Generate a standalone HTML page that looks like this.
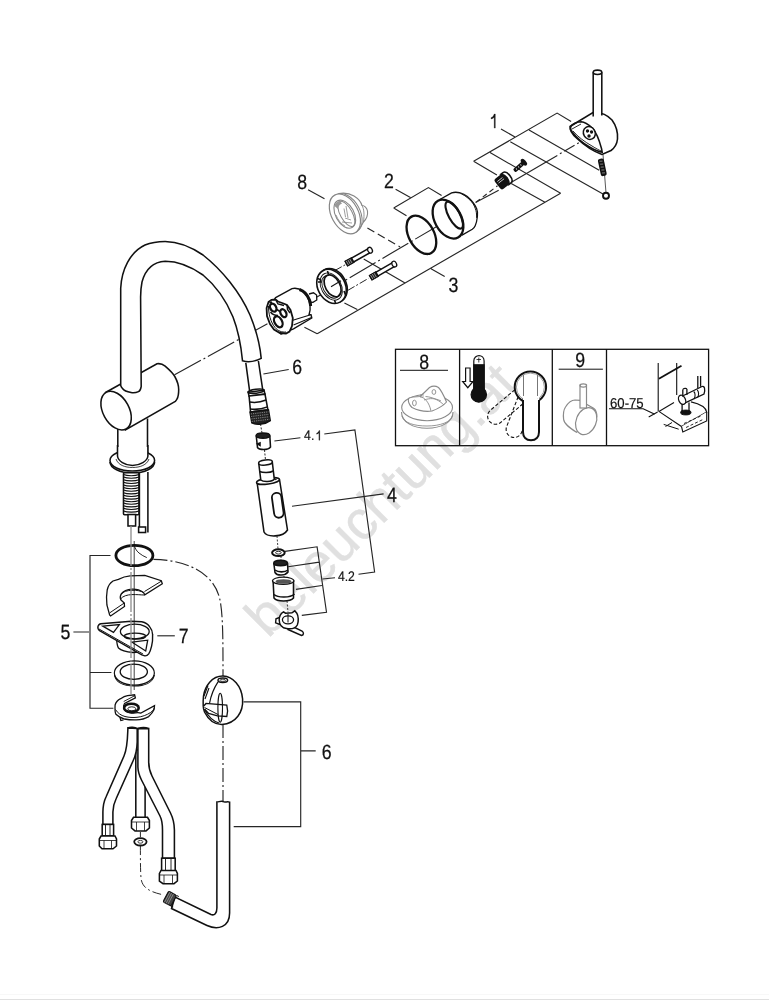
<!DOCTYPE html>
<html><head><meta charset="utf-8">
<style>
html,body{margin:0;padding:0;background:#fff;width:769px;height:1000px;overflow:hidden}
svg{display:block;position:absolute;left:0;top:0;will-change:transform}
text{font-family:"Liberation Sans",sans-serif;fill:#111;text-rendering:geometricPrecision}
</style></head><body>
<svg width="769" height="1000" viewBox="0 0 769 1000">
<!-- watermark -->
<g id="wm">
<text x="0" y="0" transform="translate(268.1,638.9) rotate(-45)" style="font-size:55px;fill:#e0e0e0;stroke:#e0e0e0;stroke-width:0.4px;letter-spacing:-0.3px">beleuchtung.at</text>
</g>
<!-- bottom border -->
<rect x="0" y="999" width="769" height="1" fill="#e0e0e0"/>
<rect x="0" y="994" width="769" height="1" fill="#f8f8f8"/>

<g id="lines" fill="none" stroke="#262626" stroke-width="1.15">
<!-- main axis dash-dot -->
<path d="M174.6,374.8 L268.2,323.3 M317,297 L476,203.3" stroke-dasharray="30 3 2 3"/>
<path d="M476,202.3 L497.5,185.8" stroke-dasharray="5 3.5"/>
<path d="M511,182.6 L547,161.5" />
<path d="M547,161.5 L580,142" stroke-dasharray="12 3 2 3"/>
<!-- bracket 1 -->
<path d="M473.6,161.2 L557.1,113.1 L571.1,121.4 M529,130 L599.2,170.2 M510.3,141.7 L603,193.9 M490,152.6 L560.6,193.2 M473.6,161.2 L496.9,175 M501,129 L515,137"/>
<!-- bracket 3 -->
<path d="M560.6,193.2 L317.2,333.7 M511.2,183.4 L545,202.3 M431,268.8 L444.7,276.4 M404.6,282.8 L363.7,259.1 M344.4,303 L357.3,309.5 M304.4,327.3 L317.2,333.7"/>
<path d="M334.7,270.6 L345.2,264.8 M347.6,290.5 L368.6,278.3" stroke-dasharray="8 2 2 2" stroke-width="1"/>
<!-- bracket 2 -->
<path d="M395.6,189.2 L410.4,197.5 M393.7,207.9 L428.4,187.6 L441.6,195.4 M393.7,207.9 L406.5,215.7"/>
<path d="M475.5,202.5 L498.7,190.3"/>
<!-- leader 8 -->
<path d="M308.1,189.7 L324.5,198.7"/>
<path d="M367.4,227.9 L400.1,246.9" stroke-dasharray="8 4"/>
<!-- leader 6 top -->
<path d="M263.4,374 L288.7,369.5"/>
<!-- 4.1 bracket -->
<path d="M274.4,441 L300.4,437.8 M324.3,434 L354.9,429.9 L374.6,572 L358.5,574.3"/>
<!-- 4 leader -->
<path d="M292,506.3 L383.6,493.9"/>
<!-- 4.2 bracket -->
<path d="M284.9,551.4 L317.1,546.8 L326.5,612.2 L301.8,615.4 M288.1,566.7 L319.3,562.1 M295.9,589.4 L321.9,585.5 M322.6,579 L335,577.7"/>
<!-- 5 bracket -->
<path d="M110.5,555.5 L90,555.5 L90,708.2 L113.4,708.2 M90,672.5 L111.4,672.5 M73.4,632 L89,632"/>
<!-- 7 leader -->
<path d="M157.3,635.8 L174.8,635.8"/>
<!-- 6 bracket bottom -->
<path d="M243.5,701.8 L300.7,701.8 L300.7,826.6 L233.7,826.6 M300.7,750.9 L315.7,750.9"/>
<!-- dash-dot curve from o-ring to egg -->
<path d="M153.4,559.4 C190,560 215,575 220,600 C223,615 223,640 223,676" stroke-dasharray="14 3 2 3"/>
<path d="M223,724 L223,802" stroke-dasharray="14 3 2 3"/>
</g>

<!-- labels -->
<g style="font-size:20.6px" stroke="#111" stroke-width="0.25">
<text transform="translate(384.0 187.9) scale(0.86 1)">2</text>
<text transform="translate(297.2 189.2) scale(0.86 1)">8</text>
<text transform="translate(448.4 292.0) scale(0.86 1)">3</text>
<text transform="translate(292.2 374.4) scale(0.86 1)">6</text>
<text transform="translate(387.0 502.4) scale(0.86 1)">4</text>
<text transform="translate(60.4 638.7) scale(0.86 1)">5</text>
<text transform="translate(178.8 643.4) scale(0.86 1)">7</text>
<text transform="translate(321.7 759.4) scale(0.86 1)">6</text>
</g>
<g style="font-size:13.9px" stroke="#111" stroke-width="0.2">
<text transform="translate(304.1 440.2) scale(0.88 1)">4.</text>
<text transform="translate(337.9 581.0) scale(0.88 1)">4.2</text>
</g>
<!-- "1" glyphs as paths -->
<path d="M495.3,128.1 V114 L494.2,114 C493.6,116 492.5,117.2 491.1,117.6 V119 C492.6,118.7 493.6,118 494.2,117.2 V128.1 Z" fill="#111" stroke="#111" stroke-width="0.3"/>
<path d="M319.8,440.2 V430.6 L319,430.6 C318.6,432 317.8,432.9 316.6,433.2 V434.2 C317.7,434 318.4,433.5 318.9,432.9 V440.2 Z" fill="#111" stroke="#111" stroke-width="0.25"/>
<!-- PARTS -->
<g id="parts" fill="#fff" stroke="#111" stroke-width="1.55">
<!-- FAUCET BODY -->
<!-- horizontal body cylinder -->
<path d="M105.5,392.5 L157,363.8 C159.5,363.3 162.5,364 165.2,366.2 C169,369.5 172.5,372.5 174.8,376.5 C177,380.5 178.7,385 178.7,389.5 C178.7,393 178.2,397 177,399 C176.5,400 176,400.8 175.3,401.4 L125.4,429.9 Z"/>
<ellipse cx="116.1" cy="410.6" rx="13.1" ry="20.8" transform="rotate(-28.6 116.1 410.6)"/>
<!-- spout -->
<path d="M120.7,385.4 L120.7,288.2 C121.5,270 130,252 145,245 C152,242 158,241.4 165.2,241.4 C178,241.5 190,246 203,255 C222,270 240,292 250,315 C257,332 260,345 261.2,358.4 C255,361.5 248,362.5 242.5,360.8 C241,345 238,330 233,317 C226,300 215,285 203,275 C190,266 178,261.3 165.2,261.3 C152,262 145,271 142,282 C141,287 140.6,292 140.6,297 L141.2,386.6 C140.8,389 140,391 138.5,391.6 C136,392.8 133,393 131,392.6 C127,391.8 124,390.5 122.5,388.5 C121.5,387.5 120.9,386.5 120.7,385.4 Z"/>
<!-- hose from spout -->
<path d="M245.8,362.8 L249.7,391.6 M258.4,361 L262.7,389.7" fill="none"/>
<!-- stem below body -->
<path d="M117.8,429 L117.8,458 M147.5,418.5 L147.5,458" fill="none"/>
<!-- base flange -->
<path d="M110,462 C110,468 120,473 132.3,473 C145,473 154.6,468 154.6,462" fill="none"/>
<ellipse cx="132.3" cy="460.5" rx="22.3" ry="10.5"/>
<path d="M117.5,455 C117.5,461 124,465 132.5,465 C141,465 147.9,461 147.9,455 L147.9,447 L117.5,447 Z" stroke="none"/>
<path d="M117.5,445 L117.5,456 C118,461 125,465.5 132.5,465.5 C140,465.5 147.5,461 147.9,456 L147.9,445" fill="none"/>
<path d="M116,459 C118,465 125,467.5 132.5,467.5 C140,467.5 147,465 149,459" fill="none" stroke-width="0.8"/>
<!-- threaded rod -->
<rect x="123.5" y="472.7" width="15.5" height="42" rx="1" stroke-width="1.6"/>
<path d="M123.5,474.5 C127,476.1 135.5,476.1 139,474.5 M123.5,477.1 C127,478.7 135.5,478.7 139,477.1 M123.5,479.7 C127,481.3 135.5,481.3 139,479.7 M123.5,482.3 C127,483.9 135.5,483.9 139,482.3 M123.5,484.9 C127,486.5 135.5,486.5 139,484.9 M123.5,487.5 C127,489.1 135.5,489.1 139,487.5 M123.5,490.1 C127,491.7 135.5,491.7 139,490.1 M123.5,492.7 C127,494.3 135.5,494.3 139,492.7 M123.5,495.3 C127,496.9 135.5,496.9 139,495.3 M123.5,497.9 C127,499.5 135.5,499.5 139,497.9 M123.5,500.5 C127,502.1 135.5,502.1 139,500.5 M123.5,503.1 C127,504.7 135.5,504.7 139,503.1 M123.5,505.7 C127,507.3 135.5,507.3 139,505.7 M123.5,508.3 C127,509.9 135.5,509.9 139,508.3 M123.5,510.9 C127,512.5 135.5,512.5 139,510.9" fill="none" stroke-width="1.1"/>
<!-- pipe -->
<path d="M139.4,473 L139.4,532.5 M147.9,472 L147.9,532.5" fill="none"/>
<rect x="138.6" y="527" width="7" height="5.5"/>
<rect x="128" y="514.5" width="7.6" height="11.5"/>

<!-- PART 1 -->
<path d="M570,126.5 L593,112.5 C600,112 607,114.5 612,120 C616,125.5 618,132 617.5,139 C617,144 614.5,148 611,150.5 L602,154.5 C595,152 585,146 577,138.5 C572,134 569.5,130 570,126.5 Z"/>
<path d="M570.7,126.7 C572,124 577,121.8 581.2,121.8 C585,122 589,125 592.5,128.2 C596,132 599,139 601.5,148.5 L602.2,152.2 C598,151.5 593,149 589.5,147 C584,144 577,138 572.2,132 C570.5,130 570.3,128 570.7,126.7 Z" fill="none"/>
<path d="M572,129 L581,124 M573,131 C578,137 585,142 592,146 C596,148.5 599,150 601,151" fill="none" stroke-width="0.9"/>
<ellipse cx="589.3" cy="133" rx="5.8" ry="6.6" transform="rotate(-30 589.3 133)" stroke-width="1.5"/>
<circle cx="587.5" cy="131" r="1.7" fill="#111" stroke="none"/>
<circle cx="591.5" cy="132" r="1.7" fill="#111" stroke="none"/>
<circle cx="589" cy="136" r="1.7" fill="#111" stroke="none"/>
<circle cx="589.3" cy="133" r="1" fill="#fff" stroke="none"/>
<rect x="593.2" y="72.3" width="8.6" height="42" stroke="none"/>
<path d="M593.2,72.3 L593.2,116.5 M601.8,72.3 L601.8,115.5" fill="none"/>
<ellipse cx="597.5" cy="72.3" rx="4.3" ry="2.2"/>
<path d="M603,154.5 L606,193" fill="none" stroke-width="0.7"/>
<g transform="translate(602.3,167.3) rotate(-12)">
<rect x="-3" y="-8.8" width="6" height="17.6" rx="2" fill="#111" stroke="none"/>
<path d="M-1.5,-6.5 L1.5,-6 M-1.5,-3.5 L1.5,-3 M-1.5,-0.5 L1.5,0 M-1.5,2.5 L1.5,3 M-1.5,5.5 L1.5,6" stroke="#bbb" stroke-width="0.6"/>
</g>
<circle cx="606" cy="195.7" r="3" stroke-width="1.9"/>
<!-- small screw -->
<g transform="translate(519.8,166) rotate(-42)">
<rect x="-7.5" y="-2.1" width="12" height="4.2" rx="1.5" fill="#111" stroke="none"/>
<path d="M-5,0 H-4 M-2,0 H-1 M1,0 H2" stroke="#fff" stroke-width="1.3"/>
<ellipse cx="5.5" cy="0" rx="2.2" ry="4" fill="#111" stroke="none"/>
</g>
<!-- nut -->
<g transform="translate(503.5,180.5) rotate(-38)">
<rect x="-7.5" y="-6.5" width="13.5" height="13" rx="2.5" fill="#111" stroke="none"/>
<path d="M2,-6.5 L4.5,-6.5 C7,-6.5 8,-3 8,0 C8,3 7,6.5 4.5,6.5 L2,6.5 C4,4 4.5,2 4.5,0 C4.5,-2 4,-4 2,-6.5 Z" fill="#fff" stroke="#111" stroke-width="1.6"/>
<path d="M-5.5,-3 H1 M-5.5,-1 H1.5" stroke="#fff" stroke-width="0.7"/>
</g>
<!-- PART 2 -->
<path d="M439.4,199.7 L451.6,192.9 C456,191.5 460,192.5 463.8,194.3 C467,195.8 469,197.5 470.9,200 C473.5,203 475.5,205.5 476.6,208.6 C477.8,211.5 477.7,214 477.4,216.5 C477,220 476.5,223 475.2,225.8 C474.5,227.5 473.5,228.5 472.3,229.3 L461.6,235.4 L448,219 Z" stroke="none"/>
<path d="M439.4,199.7 L451.6,192.9 C456,191.5 460,192.5 463.8,194.3 C467,195.8 469,197.5 470.9,200 C473.5,203 475.5,205.5 476.6,208.6 C477.8,211.5 477.7,214 477.4,216.5 C477,220 476.5,223 475.2,225.8 C474.5,227.5 473.5,228.5 472.3,229.3 L461.6,235.4" fill="none" stroke-width="1.3"/>
<path d="M461.6,193.9 C464,195 466,196.5 468,198.2 C470.5,200.5 472.5,202.5 473.8,205 C475,207.5 476,210 476.3,212.2 C476.6,214 476.7,216 476.6,217.9" fill="none" stroke-width="1"/>
<ellipse cx="448.0" cy="219.1" rx="13.3" ry="20.9" transform="rotate(-28.6 448.0 219.1)" stroke-width="2.3"/>
<ellipse cx="454.2" cy="215.1" rx="5.6" ry="15.1" transform="rotate(-28.6 454.2 215.1)" fill="none" stroke-width="2.1"/>
<ellipse cx="421.4" cy="234.8" rx="12.6" ry="20.7" transform="rotate(-28.6 421.4 234.8)" fill="none" stroke-width="2.3"/>
<!-- PART 8 gray -->
<g stroke="#858585" stroke-width="1.1" fill="#fff">
<path d="M339,193.5 C343,192.8 349,193 354,196 C358,198.5 361,202 362,205.5 C364.5,205.5 367,208 367.5,211 C368,215 366.5,219 363.5,222 C362,225 360,228 358.5,229.5 L345,214 Z" />
<path d="M362,205.5 C364,209 364.5,214 363.5,222" fill="none" stroke-width="0.9"/>
<ellipse cx="346.6" cy="213.2" rx="13.4" ry="21.2" transform="rotate(-28.6 346.6 213.2)" fill="none" stroke-width="1"/>
<ellipse cx="344.9" cy="213.9" rx="13.4" ry="21.4" transform="rotate(-28.6 344.9 213.9)" stroke-width="1.2"/>
<ellipse cx="344.8" cy="214.2" rx="9.2" ry="15.2" transform="rotate(-28.6 344.8 214.2)" stroke-width="1.1"/>
<ellipse cx="346.3" cy="213.9" rx="6" ry="14" transform="rotate(-28.6 346.3 213.9)" fill="none" stroke-width="1"/>
<path d="M334.5,206 C335,203 337,201 340,201 L342,203.5 C340,204 338.5,206 338,209 Z" fill="#999" stroke="none"/>
<path d="M346,206 L348,218 M344,208.5 L345.5,217 M342,222 L352,223 M345,218 L351,220 M336,215 C338,220 341,224 345,226" fill="none" stroke-width="0.8"/>
</g>
<!-- PART 3 screws -->
<g transform="translate(358.7,256.6) rotate(-29.5)">
<rect x="-14" y="-2.2" width="26" height="4.4"/>
<rect x="-14" y="-2.4" width="7" height="4.8" fill="#222"/>
<path d="M-13,-2.4 V2.4 M-11,-2.4 V2.4 M-9,-2.4 V2.4" stroke="#ccc" stroke-width="0.6"/>
<ellipse cx="13" cy="0" rx="2.2" ry="3" stroke-width="1.3"/>
</g>
<g transform="translate(383,270.6) rotate(-30)">
<rect x="-14" y="-2.2" width="26" height="4.4"/>
<rect x="-14" y="-2.4" width="7" height="4.8" fill="#222"/>
<path d="M-13,-2.4 V2.4 M-11,-2.4 V2.4 M-9,-2.4 V2.4" stroke="#ccc" stroke-width="0.6"/>
<ellipse cx="13" cy="0" rx="2.2" ry="3" stroke-width="1.3"/>
</g>
<!-- flange -->
<ellipse cx="332.5" cy="285.6" rx="13.7" ry="17.9" transform="rotate(-28.6 332.5 285.6)" stroke-width="1.6"/>
<ellipse cx="331.5" cy="286.4" rx="13.7" ry="17.9" transform="rotate(-28.6 331.5 286.4)" stroke-width="1.6"/>
<ellipse cx="331.2" cy="286.5" rx="10" ry="14.5" transform="rotate(-28.6 331.2 286.5)" fill="none" stroke-width="0.9"/>
<ellipse cx="330.8" cy="286.8" rx="7.8" ry="12.2" transform="rotate(-28.6 330.8 286.8)" fill="none" stroke-width="0.9"/>
<ellipse cx="332.6" cy="285.8" rx="7.3" ry="11.8" transform="rotate(-28.6 332.6 285.8)" stroke-width="1.7"/>
<path d="M317.5,278.5 L320.5,279.5 L321,282 L318,282 M327.5,271 L328.5,274.5 M334.5,300 L335.5,303 M344,291 L346,296" fill="none" stroke-width="1.6"/>
<path d="M331,286.7 L341,280.8" fill="none" stroke-width="1.1"/>
<!-- cartridge -->
<path d="M309,294 L313.5,292.8 L316.6,295 L316.8,300 L313,302.3 L309,302" stroke-width="1.3"/>
<path d="M275.6,297.6 L292,288.6 C295,287.8 299,288.2 303,291.5 C306.5,294 309,298.5 310,305.4 C310.5,309 310,312 309.1,314.5 L311,314.6 L311.8,318 L293.5,328.8 L281,334 L268,310 Z" stroke-width="1.4"/>
<path d="M299.5,289.5 C304,291 307.5,295 309.5,300 C310.2,302 310.5,304 310.6,306" fill="none" stroke-width="3"/>
<path d="M292.8,320.2 L310.7,314.8 M293.5,325 L311.5,317.5" fill="none" stroke-width="1.1"/>
<path d="M268.5,302 L271.5,299.8 L275.5,299.5 L278,301.5 L283.5,303.5 L287,305 L290.5,310 L292.8,318 L292,326 L289.5,331.5 L286,333.5 L280,333 L274,329.5 L270,324 L267,316 L266.6,308 Z" stroke-width="1.8"/>
<path d="M268.5,306 C268.5,314 270.5,322 275,327.5 C278,331 282,332.5 286,332" fill="none" stroke-width="1"/>
<path d="M276,300.5 L278,304 L284,305.5 M287,305 L287.5,309.5 L290,313 M269.5,303 L272,302" fill="none" stroke-width="1.4"/>
<ellipse cx="273.2" cy="307.7" rx="2.9" ry="4.2" transform="rotate(-28.6 273.2 307.7)" stroke-width="2.3"/>
<ellipse cx="283.4" cy="313.2" rx="2.7" ry="4.2" transform="rotate(-28.6 283.4 313.2)" stroke-width="2.3"/>
<ellipse cx="278.3" cy="321.8" rx="3.7" ry="5.9" transform="rotate(-28.6 278.3 321.8)" stroke-width="2.3"/>
<path d="M270.5,312 C272,314 275,315.5 278,315.5 M276,309 L280,311.5" fill="none" stroke-width="1.5"/>
<!-- hose end fitting -->
<g transform="translate(258.5,407) rotate(-7)">
<path d="M-8.5,-16 L7.5,-16 L8,-12 L-8,-12 Z"/>
<ellipse cx="-0.5" cy="-16" rx="8" ry="2" fill="none"/>
<path d="M-8,-12 L-8.5,4 L9,4 L8,-12 Z"/>
<path d="M-8.2,-6 C-3,-4.5 3,-4.5 8.4,-6 M-8.5,1 C-3,2.5 3,2.5 9,1" fill="none"/>
<path d="M-9,4 L-8.5,15 C-4,18 5,18 10,15 L9.5,4 Z" fill="#222"/>
<path d="M-8.5,6 L9.5,6 M-8.5,8.5 L9.5,8.5 M-8.5,11 L9.5,11 M-8.5,13.5 L9.5,13.5" stroke="#999" stroke-width="0.8" stroke-dasharray="1.2 1"/>
</g>
<path d="M260.5,424 L262,433 M264.5,450 L265.5,460" fill="none" stroke-width="0.9" stroke-dasharray="2 1.5"/>
<!-- 4.1 nut -->
<path d="M256.2,435.5 L257.5,447.5 C259,450 268,450.5 270.5,447 L269.8,435.5"/>
<ellipse cx="263" cy="435.5" rx="6.8" ry="2.6" fill="#222"/>
<path d="M257.5,444 L260,443 L260,445.5 Z" fill="#111"/>
<!-- sprayer 4 -->
<path d="M257,482 L264,532 C267,537.5 283,537.5 287.5,530 L279.5,479.5"/>
<ellipse cx="268" cy="481" rx="11.6" ry="3" transform="rotate(-8 268 481)"/>
<path d="M258.7,463 L260.8,480 C263,482 272,482 274.3,479.3 L272.3,462"/>
<path d="M259.5,471.5 C263,473 270,473 273.2,471" fill="none"/>
<ellipse cx="265.5" cy="462.5" rx="6.9" ry="2.5" transform="rotate(-6 265.5 462.5)"/>
<path d="M275.5,478.5 L276,480" fill="none"/>
<rect x="273" y="492.8" width="9.5" height="25" rx="4.7" transform="rotate(-8 277.7 505.3)" stroke-width="1.8"/>
<path d="M277,536 L278,549 M281,556 L281,560 M284,576 L284,578 M287,601 L288,612" fill="none" stroke-width="0.8" stroke-dasharray="2 1.5"/>
<!-- 4.2 parts -->
<ellipse cx="278.4" cy="552.7" rx="6.3" ry="3.4" stroke-width="2"/>
<ellipse cx="278.4" cy="552.7" rx="2.8" ry="1.4" stroke-width="0.9"/>
<path d="M273.8,563 L275,572.5 C277,576 285,576 288,572 L287.5,563"/>
<ellipse cx="280.6" cy="563" rx="6.8" ry="2.8" fill="#222"/>
<path d="M275,570 C278,572.5 285,572.5 288,570" fill="none"/>
<path d="M273.1,581 L274,598 C277,602 290,602 293.5,598 L293.5,580.5"/>
<ellipse cx="283.2" cy="580.8" rx="10.7" ry="3.6" stroke-width="1.3"/>
<ellipse cx="283.5" cy="581.5" rx="8" ry="2.3" fill="#555" stroke="none"/>
<path d="M274,594.5 C278,598 290,598 294.5,594" fill="none"/>
<path d="M289.5,625 L302,631 C304,632.5 304,635 301.5,635.5 L288,629.5 Z" stroke-width="1.4"/>
<path d="M279.5,617.5 L276,618.8 L275.6,622.8 L280,624.5" stroke-width="1.4"/>
<path d="M279.2,620 C279.2,615.5 281.5,613 283.5,611.8 L285.5,613.2 L292,612.8 L294.8,610.8 L296.8,613.2 C298.5,616 298.8,621.5 297.3,625 C295.5,628.5 290.5,629.2 286.5,628.6 C282.5,628 279.2,625 279.2,620 Z" stroke-width="1.5"/>
<ellipse cx="288" cy="619.8" rx="5.6" ry="4" stroke-width="1.3"/>
<path d="M288,614 V622.5" fill="none" stroke-width="1"/>
<!-- PART 5 -->
<ellipse cx="134.4" cy="555.5" rx="18.5" ry="10.2" fill="none" stroke-width="2.8"/>
<path d="M109.6,614.9 L106.9,605 C106.3,600 106.5,594 107.2,590 C108,586 110,583 113,581 L118.4,579.3 C122,577.5 126,576.3 130.1,575.9 L144.8,575.4 L161.3,580.7 L162.3,583.7 L144.8,594.9 L143.5,592.5 C140,590 136,589 132,589.2 C127,589.5 123.5,591 121.2,594 C120,596 120.2,598.5 121,600 L124.3,603 L124.5,606.5 L110.6,616 Z" stroke-width="1.3"/>
<path d="M161.3,581.2 L144.5,591.5 M124,603.2 L109.8,612.8 M121,594.5 C123,591.5 127,590.5 132,590.3 C137,590 141,591 143.3,592.5 M120.5,599 C123,596 127,594.8 132,594.6 C137,594.4 141,595 144.6,595" fill="none" stroke-width="1"/>
<path d="M116.5,638 C116.8,643 117,646 118.5,648 C121,650.5 127,652 133,652.5 L140,652 Z" stroke-width="1.3"/>
<path d="M97.9,626.6 C98.5,624.5 99.5,623.8 100.9,623.7 L131.1,621.2 L141.8,621.7 C145.5,622.5 148,624 149.6,626.6 C151.5,629 152.6,631.5 152.6,634.4 C152.8,639 152.5,643 151.6,646.1 C150.8,649.5 150,652 148.7,653.9 C147.5,655.5 146,656 144.8,655.9 L141.8,654.9 L99.9,630.8 C98.2,629.8 97.7,628 97.9,626.6 Z" stroke-width="1.4"/>
<path d="M99,629 L143,654" fill="none" stroke-width="1"/>
<path d="M102.8,626.1 L119.4,624.6 L113.5,632.4 Z" stroke-width="1.3"/>
<ellipse cx="134.8" cy="631.5" rx="14.4" ry="7.3" stroke-width="1.3"/>
<ellipse cx="135" cy="636.2" rx="10.7" ry="3" fill="none" stroke-width="1.2"/>
<path d="M132.1,642.2 L147.7,640.2 L145.7,651 Z" stroke-width="1.3"/>
<ellipse cx="134.35" cy="673" rx="20" ry="12.2" stroke-width="1.2"/>
<path d="M114.5,675 C116,683 125,686 134.5,686 C144,686 153,683 154.3,675" fill="none" stroke-width="1.1"/>
<ellipse cx="133.8" cy="671.8" rx="13.6" ry="7.6" stroke-width="1.3"/>
<path d="M120,717.5 L120.8,720.5 L123.5,719.8" fill="none" stroke-width="1.2"/>
<path d="M115.1,705 C116,702 118,700 120.6,698.7 C123,697 125,696 127.6,695.6 L134.6,694.8 L135.4,697.9 L124.5,703.5 C123.5,705 123,707 124,709 C125.5,711.5 128.5,713 132,713 C135.5,713 138.5,712 140.9,713.1 L154.5,705.7 L154.1,709.6 C153,712 151,714.5 148.7,716.6 C145,718.8 141,719.7 136.2,719.9 C132,720 128,719.7 124.5,719 C121,718 118,716.5 115.9,714.3 C115,712.5 114.8,710 115.1,705 Z" stroke-width="1.3"/>
<path d="M115.5,709.5 C117.5,713 121,715.5 125,716.5 C129,717.5 133,717.7 137,717.3 C142,716.8 147,715 150.5,712.5 C152.5,711 153.8,709.5 154.2,708" fill="none" stroke-width="1"/>
<path d="M123.7,701.5 L134.9,695.6" fill="none" stroke-width="0.9"/>
<ellipse cx="131.4" cy="707.9" rx="7.3" ry="4.2" fill="#fff" stroke-width="2.6"/>
<ellipse cx="131.8" cy="708.8" rx="4" ry="2" fill="none" stroke-width="0.9"/>
<!-- BOTTOM HOSES -->
<rect x="135.8" y="750" width="9.3" height="68.7"/>
<path d="M127.9,727.9 C127.5,740 127.5,748 124,756 L106,797 C104,801 103,806 102.9,812 L102.9,824.4 L112.9,824.4 L112.9,812 C113,806 114,803 116,799 L133,761 C135.5,756 137,749 137.2,742 L137.2,728.6 Z"/>
<path d="M137.9,728.6 L137.9,767 C138,772 139.5,776 141.5,780 L160,816 C162,820 162.5,824 162.5,830 L162.5,858.2 L174.4,858.2 L174.4,830 C174.3,823 173,818 170.5,813 L152,776 C150,772 148.7,768 148.7,762 L148.7,728.6 Z"/>
<path d="M127.9,727.9 C130,727 135,727 137.2,728.6 M137.9,728.6 C141,727.5 146,727.5 148.7,728.6" fill="none"/>
<!-- left fitting -->
<rect x="102.2" y="824.4" width="11.4" height="11.5"/>
<path d="M105.5,825 V836 M110,825 V836" fill="none" stroke-width="0.9"/>
<path d="M99.3,839 L101,836 L115,836 L116.5,839 L116.5,846 L113,848.8 L102,848.8 L99.3,846 Z"/>
<path d="M99.3,840.5 L116.5,840.5 M104,840.5 V848.8 M111.5,840.5 V848.8" fill="none" stroke-width="0.8"/>
<!-- middle nut -->
<path d="M131.5,820.5 L133.5,817.3 L147.5,817.3 L149.4,820.5 L149.4,828 L146,830.9 L135,830.9 L131.5,828 Z"/>
<path d="M131.5,822 L149.4,822 M136.5,822 V830.9 M144.5,822 V830.9" fill="none" stroke-width="0.8"/>
<ellipse cx="140.4" cy="841.8" rx="6.2" ry="3.7" stroke-width="1.8"/>
<ellipse cx="140.4" cy="841.8" rx="2.5" ry="1.4" stroke-width="0.8"/>
<path d="M140.4,832 L140.4,837 M140.4,846 C140.4,860 140.4,870 141,878 C142,888 150,892 164,895" fill="none" stroke-width="0.9" stroke-dasharray="9 3 2 3"/>
<!-- right fitting -->
<rect x="161.6" y="858.2" width="13.6" height="13"/>
<path d="M165.5,859 V871 M171,859 V871" fill="none" stroke-width="0.9"/>
<path d="M159.4,873.5 L161,870.5 L176,870.5 L177.4,873.5 L177.4,881 L174,883.7 L163,883.7 L159.4,881 Z"/>
<path d="M159.4,875 L177.4,875 M164,875 V883.7 M172.5,875 V883.7" fill="none" stroke-width="0.8"/>
<!-- L hose -->
<path d="M216.9,802.1 L216.9,908 C216.9,913 214.5,916 211,914.5 L175,897 L171.5,908.5 L207,925.5 C218,930.5 229.6,927 229.6,913 L229.6,802.1 C227,801 225,803 223,801.5 C221,800.5 219,802 216.9,802.1 Z"/>
<g transform="translate(169.8,898.6) rotate(28)">
<rect x="-4.5" y="-6" width="9" height="12" rx="1.5" fill="#444" stroke-width="1.2"/>
<path d="M-3,-6 V6 M-1,-6 V6 M1,-6 V6" stroke="#aaa" stroke-width="0.6"/>
<path d="M4.5,-6 L7,-6 M4.5,6 L7,6" stroke-width="1"/>
</g>

<!-- EGG -->
<path d="M223,676.1 C233,676.5 241.5,686 242.6,699 C243.5,712 236,723.5 222,724.4 C214,724.6 208,719 204.5,712 C202.8,708 203,701 203.5,696 C205,686 212,676 223,676.1 Z" stroke-width="1.5"/>
<ellipse cx="222.8" cy="680.3" rx="4.8" ry="2.2" stroke-width="1.5"/>
<ellipse cx="222.8" cy="680.3" rx="2.8" ry="1.1" fill="none" stroke-width="0.8"/>
<path d="M218,681.8 C214,688 211,695 209.6,703" fill="none" stroke-width="1.2"/>
<path d="M204,696 L208,685.5 M205,699 L209,688" fill="none" stroke-width="1.1"/>
<path d="M203.8,706 L206,703.5 L208.6,703.6 L226.8,705.2 C227.6,708 227.6,713.5 226.8,716.5 L217.5,715.8 L208.6,713.5 L204.5,709" stroke-width="1.3"/>
<path d="M204.5,707.5 L218,714.5" fill="none" stroke-width="1"/>
<ellipse cx="220.2" cy="707.7" rx="2.3" ry="14.5" fill="none" stroke-width="1.1"/>
<path d="M204.5,709.5 C208,716 212,721 219,723" fill="none" stroke-width="1.2"/>
</g>

<!-- part5 axis overlay -->
<path d="M131,526 V694" stroke="#8c8c8c" stroke-width="1.3" fill="none" stroke-dasharray="40 2 2 2"/>
<path d="M134.2,541 V690" stroke="#111" stroke-width="0.8" fill="none"/>
<path d="M134,544.8 C135,548 136,550.5 139,553 C141.5,555 144,556.5 146.8,557.6" stroke="#111" stroke-width="0.9" fill="none"/>
<!-- legend graphics -->
<g id="leg8" fill="#fff" stroke="#8a8a8a" stroke-width="1.1">
<path d="M401.5,412 C401.5,422 413,428.3 427,428.3 C441,428.3 453,422 453,412" />
<path d="M402,416 C404,423 414,426 427,426 C440,426 451,422 452.5,416" fill="none" stroke-width="0.9"/>
<ellipse cx="427.1" cy="407.6" rx="25.4" ry="13.1"/>
<path d="M408.5,398.5 C411,397 416,396.5 420,396.5 C423,394 426,391 429.5,387.5 C432,386 436,386 438.5,387.5 C441,390 444,396 446.5,402 C444,405 440,408 432,411 C425,412 418,410.5 412,407.5 C409.5,405 408,401 408.5,398.5 Z"/>
<path d="M420,396.5 C425,398 429,402 431,411 M425.5,396.5 C433,397 440,401 444,405 M424,400 C430,398 435,398 441,401" fill="none" stroke-width="0.9"/>
<ellipse cx="414.4" cy="403" rx="1.9" ry="2.8" fill="none" stroke-width="0.9"/>
<ellipse cx="433.9" cy="392" rx="1.9" ry="2.4" fill="none" stroke-width="0.9"/>
<path d="M421,394 V398 M423,393.5 V397.5" fill="none" stroke-width="0.7"/>
</g>
<g id="thermo" stroke="#111" stroke-width="1.2">
<path d="M473.8,391 L473.8,361 C473.8,357.5 476.5,355.6 479,355.6 C481.5,355.6 484.1,357.5 484.1,361 L484.1,391" fill="#fff"/>
<rect x="473.8" y="364.8" width="10.3" height="27" fill="#111"/>
<circle cx="478.8" cy="394.5" r="7.7" fill="#111"/>
<path d="M476.5,359.5 H481 M478.8,357.5 V362.5" fill="none" stroke-width="0.8"/>
<path d="M465.6,368 H470.1 V381.5 H473 L467.8,387.7 L462.7,381.5 H465.6 Z" fill="#fff" stroke-width="1.2"/>
</g>
<g id="lever" stroke="#111" fill="none">
<g transform="rotate(50 530.4 387.1)"><rect x="522.4" y="375" width="16" height="65.5" rx="8" stroke-dasharray="3.5 2" stroke-width="1.1"/></g>
<g transform="rotate(21 530.4 387.1)"><rect x="522.4" y="375" width="16" height="65.5" rx="8" stroke-dasharray="3.5 2" stroke-width="1.1"/></g>
<circle cx="530.4" cy="387.1" r="15.7" stroke-width="2" fill="#fff"/>
<circle cx="530.4" cy="387.1" r="14" stroke-width="0.8" stroke="#888"/>
<path d="M523.5,374.5 V396 M537.5,374.5 V396" stroke-width="1" stroke="#777"/>
<path d="M523,398.5 L523,432 C523,437 526,440.2 531,440.2 C536,440.2 539,437 539,432 L539,398.5" stroke-width="2" fill="#fff"/>
<path d="M523.5,396 V400 M538.5,396 V400" stroke-width="1.5" stroke="#fff"/>
</g>
<g id="leg9" stroke="#8a8a8a" stroke-width="1.2" fill="#fff">
<path d="M576.5,432.2 C570,428 564,424 563.6,419.3 C563,414 563.5,410 565.5,407 C568,403 572,400 575,400 L580,400.4 L586.5,404.3 L593.6,408.3 C596,410 597,413 596.8,417 Z"/>
<ellipse cx="586.2" cy="421.1" rx="10" ry="14" transform="rotate(22 586.2 421.1)"/>
<rect x="580" y="385" width="6.5" height="23" />
<ellipse cx="583.3" cy="385.5" rx="3.2" ry="1.6"/>
</g>
<g id="dim" stroke="#111" fill="none" stroke-width="1.1">
<path d="M609,408.7 H643.2 L654.8,414.2 M648.7,416.9 L657.6,412.1"/>
<path d="M658.2,363 V411.4 M676.7,363 V395" />
<path d="M658.9,378.7 L681.5,365.7" stroke-width="1.8"/>
<path d="M658.9,411.4 L674,402.6" />
<path d="M658.9,411.4 L681.5,426.5 L706.7,412.1 C706,408 700,404 691,401.9" />
<path d="M681.5,426.5 L682.8,431.9 L706.7,421 L706.7,412.1" fill="#fff"/>
<path d="M686,427.5 L704,419 M684,423.5 L702,415.5" stroke-dasharray="3 2" stroke-width="0.9"/>
<path d="M663.7,424.4 L678.7,429.2 M665.5,426.5 L672,422.5" stroke-width="1"/>
<ellipse cx="685.8" cy="412.5" rx="5.2" ry="2.4" fill="#111" stroke-width="1"/>
<path d="M682.1,403.5 L682.1,412 M689,402.5 L689,411.5" stroke-width="1.3"/>
<path d="M680.5,397 L702,386.5 C704.5,385.5 705.5,389.5 704,394 L683,403.8" fill="#fff" stroke-width="1.3"/>
<ellipse cx="682.1" cy="399.8" rx="3.3" ry="4.8" transform="rotate(-25 682.1 399.8)" fill="#fff" stroke-width="1.3"/>
<path d="M693.7,391.5 C695.5,393 695.5,397 694,399 M697.2,389.8 C699,391.5 699,395.5 697.5,397.5" stroke-width="1.1"/>
<path d="M697.8,376 V388 M700.6,376 V386.8" stroke-width="1.3"/>
<path d="M682.8,389.6 V396.8 M686.9,388.9 V395" stroke-width="1.3"/>
<path d="M682.8,389.6 C683.5,388.2 686.3,388.2 686.9,388.9" stroke-width="1.2"/>
</g>
<!-- legend box -->
<g id="legend" fill="none" stroke="#111" stroke-width="1.3">
<rect x="395.5" y="349.3" width="313.1" height="96.4"/>
<path d="M459.6,349.3 V445.7 M552.3,349.3 V445.7 M606.5,349.3 V445.7"/>
<path d="M400,370.3 H448 M558.7,369.2 H602.9" stroke-width="1"/>
</g>
<g style="font-size:20.6px" stroke="#111" stroke-width="0.25">
<text transform="translate(419.3 368.5) scale(0.86 1)">8</text>
<text transform="translate(575.3 367.0) scale(0.86 1)">9</text>
</g>
<text transform="translate(610 408.0) scale(0.92 1)" style="font-size:14.3px" stroke="#111" stroke-width="0.2">60-75</text>
</svg>
</body></html>
